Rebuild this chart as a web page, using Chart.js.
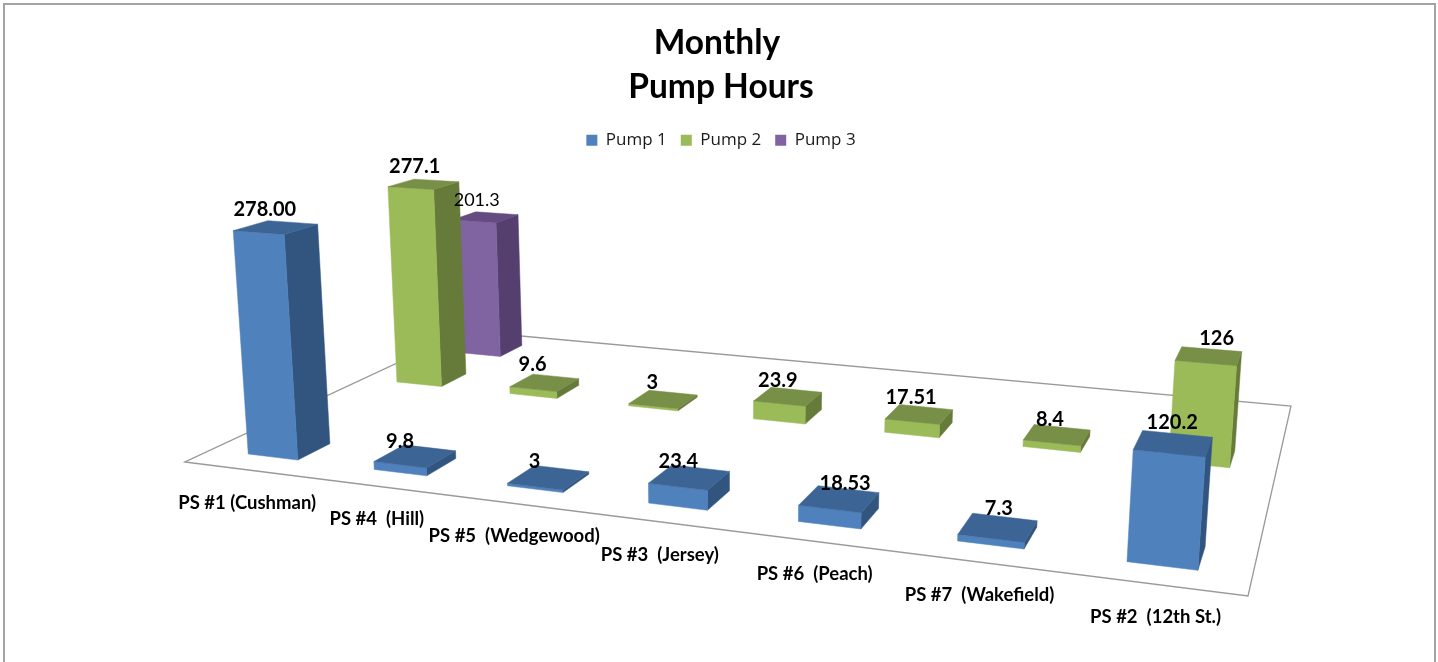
<!DOCTYPE html>
<html>
<head>
<meta charset="utf-8">
<title>Monthly Pump Hours</title>
<style>
    html, body { margin: 0; padding: 0; background: #fff; }
    canvas { display: block; }
</style>
<script src="https://cdn.jsdelivr.net/npm/chart.js@4"></script>
</head>
<body>
<canvas id="pumpChart" width="1438" height="662"></canvas>
<script>
const stations = ['PS #1 (Cushman)', 'PS #4  (Hill)', 'PS #5  (Wedgewood)', 'PS #3  (Jersey)', 'PS #6  (Peach)', 'PS #7  (Wakefield)', 'PS #2  (12th St.)'];
const seriesNames = ['Pump 1', 'Pump 2', 'Pump 3'];
const pump1Hours = [278, 9.8, 3, 23.4, 18.53, 7.3, 120.2];
const pump2Hours = [277.1, 9.6, 3, 23.9, 17.51, 8.4, 126];
const pump3Hours = [201.3, null, null, null, null, null, null];
const pump1Labels = ['278.00', '9.8', '3', '23.4', '18.53', '7.3', '120.2'];
const pump2Labels = ['277.1', '9.6', '3', '23.9', '17.51', '8.4', '126'];
const pump3Labels = ['201.3', '', '', '', '', '', ''];

// floor quad on the canvas: front left, front right, back right, back left
const floor = [[185, 462], [1248, 596], [1291, 406], [466, 331]];
// how one unit of height moves a point in the projection
const lift = { x: -0.0803, y: -0.84, w: -0.0001094 };
// depth slots on the floor, the second one is empty in the original
const depthSlots = 4;
const seriesSlot = [0, 2, 3];
const barDepth = 0.4;

const faceColors = [
    { front: '#4f81bd', side: '#325580', top: '#3c6494' },
    { front: '#9bbb59', side: '#667a3a', top: '#778f47' },
    { front: '#8064a2', side: '#553f6e', top: '#644b80' }
];

// value label offsets from the middle of each bar's top face, [dx, dy]
const labelNudge = [
    [[-11, -18], [-15, -15], [-14, -16], [-11, -16], [6, -15], [1, -19], [-1, -21]],
    [[-9, -18], [-12, -18], [-11, -17], [-10, -16], [-8, -17], [-7, -15], [8, -17]],
    [[-9, -17]]
];

function floorMatrix() {
    const [p0, p1, p2, p3] = floor;
    const dx1 = p1[0] - p2[0], dx2 = p3[0] - p2[0], sx = p0[0] - p1[0] + p2[0] - p3[0];
    const dy1 = p1[1] - p2[1], dy2 = p3[1] - p2[1], sy = p0[1] - p1[1] + p2[1] - p3[1];
    const det = dx1 * dy2 - dx2 * dy1;
    const g = (sx * dy2 - dx2 * sy) / det;
    const h = (dx1 * sy - sx * dy1) / det;
    return {
        a: p1[0] - p0[0] + g * p1[0], b: p3[0] - p0[0] + h * p3[0], c: p0[0],
        d: p1[1] - p0[1] + g * p1[1], e: p3[1] - p0[1] + h * p3[1], f: p0[1],
        g: g, h: h
    };
}

const m = floorMatrix();

function project(u, v, value) {
    const w = m.g * u + m.h * v + 1 + lift.w * value;
    return [
        (m.a * u + m.b * v + m.c + lift.x * value) / w,
        (m.d * u + m.e * v + m.f + lift.y * value) / w
    ];
}

function fillFace(ctx, points, color) {
    ctx.beginPath();
    points.forEach((p, i) => i ? ctx.lineTo(p[0], p[1]) : ctx.moveTo(p[0], p[1]));
    ctx.closePath();
    ctx.fillStyle = color;
    ctx.fill();
    ctx.strokeStyle = color;
    ctx.lineWidth = 0.5;
    ctx.stroke();
}

function barBox(chart, bar, slot) {
    const area = chart.chartArea;
    const u0 = (bar.x - bar.width / 2 - area.left) / area.width;
    const u1 = (bar.x + bar.width / 2 - area.left) / area.width;
    const v0 = (slot + 0.5 - barDepth / 2) / depthSlots;
    const v1 = (slot + 0.5 + barDepth / 2) / depthSlots;
    return { u0, u1, v0, v1, value: chart.scales.y.getValueForPixel(bar.y) };
}

function drawBar(ctx, box, colors) {
    const { u0, u1, v0, v1, value } = box;
    const fl = project(u0, v0, 0), fr = project(u1, v0, 0), br = project(u1, v1, 0);
    const tfl = project(u0, v0, value), tfr = project(u1, v0, value);
    const tbr = project(u1, v1, value), tbl = project(u0, v1, value);
    fillFace(ctx, [fr, br, tbr, tfr], colors.side);
    fillFace(ctx, [fl, fr, tfr, tfl], colors.front);
    fillFace(ctx, [tfl, tfr, tbr, tbl], colors.top);
}

const pump3dPlugin = {
    id: 'pump3d',
    beforeDatasetsDraw(chart) {
        const ctx = chart.ctx;
        ctx.save();

        // outer frame, the bottom edge runs off the picture
        ctx.strokeStyle = '#a3a3a3';
        ctx.lineWidth = 2;
        ctx.beginPath();
        ctx.moveTo(4, 662);
        ctx.lineTo(4, 4);
        ctx.lineTo(1435, 4);
        ctx.lineTo(1435, 662);
        ctx.stroke();

        ctx.strokeStyle = '#9a9a9a';
        ctx.lineWidth = 1.3;
        ctx.beginPath();
        floor.forEach((p, i) => i ? ctx.lineTo(p[0], p[1]) : ctx.moveTo(p[0], p[1]));
        ctx.closePath();
        ctx.stroke();

        // back rows first so the front rows cover them
        for (let d = chart.data.datasets.length - 1; d >= 0; d--) {
            const dataset = chart.data.datasets[d];
            chart.getDatasetMeta(d).data.forEach((bar, i) => {
                if (dataset.data[i] === null) return;
                drawBar(ctx, barBox(chart, bar, seriesSlot[d]), faceColors[d]);
            });
        }

        ctx.textAlign = 'center';
        ctx.textBaseline = 'middle';
        ctx.fillStyle = '#000';
        chart.data.datasets.forEach((dataset, d) => {
            ctx.font = dataset.labelFont;
            chart.getDatasetMeta(d).data.forEach((bar, i) => {
                if (dataset.data[i] === null) return;
                const box = barBox(chart, bar, seriesSlot[d]);
                const top = project((box.u0 + box.u1) / 2, (box.v0 + box.v1) / 2, box.value);
                const nudge = labelNudge[d][i];
                ctx.fillText(dataset.valueLabels[i], top[0] + nudge[0], top[1] + nudge[1]);
            });
        });

        ctx.font = 'bold 18.5px Lato';
        const xScale = chart.scales.x;
        chart.data.labels.forEach((label, i) => {
            const u = (xScale.getPixelForTick(i) - chart.chartArea.left) / chart.chartArea.width;
            const foot = project(u, 0, 0);
            ctx.fillText(label, foot[0], foot[1] + 33);
        });

        ctx.restore();
        return false;
    }
};

new Chart(document.getElementById('pumpChart').getContext('2d'), {
    type: 'bar',
    plugins: [pump3dPlugin],
    data: {
        labels: stations,
        datasets: [
            { label: seriesNames[0], data: pump1Hours, backgroundColor: '#4f81bd', valueLabels: pump1Labels, labelFont: 'bold 20px Lato' },
            { label: seriesNames[1], data: pump2Hours, backgroundColor: '#9bbb59', valueLabels: pump2Labels, labelFont: 'bold 20px Lato' },
            { label: seriesNames[2], data: pump3Hours, backgroundColor: '#8064a2', valueLabels: pump3Labels, labelFont: '18px Lato' }
        ]
    },
    options: {
        responsive: false,
        animation: false,
        grouped: false,
        barPercentage: 0.4,
        categoryPercentage: 1,
        layout: { padding: { left: 4 } },
        plugins: {
            title: {
                display: true,
                text: ['Monthly ', 'Pump Hours'],
                color: '#000',
                font: { family: 'Lato', size: 33.5, weight: 'bold', lineHeight: 1.31 },
                padding: { top: 21, bottom: 9 }
            },
            legend: {
                position: 'top',
                labels: {
                    color: '#1a1a1a',
                    font: { family: 'Open Sans', size: 17 },
                    boxWidth: 11,
                    boxHeight: 11,
                    padding: 14
                }
            },
            tooltip: { enabled: false }
        },
        scales: {
            x: { display: false },
            y: { display: false, min: 0, max: 300 }
        }
    }
});
</script>
</body>
</html>
